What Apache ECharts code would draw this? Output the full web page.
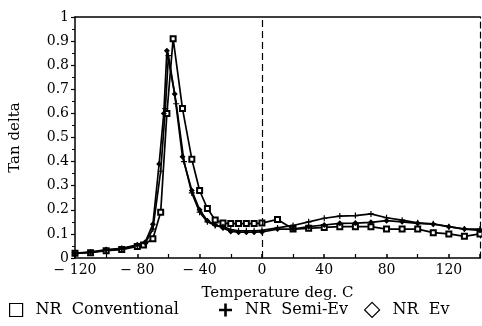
<!DOCTYPE html>
<html>
<head>
<meta charset="utf-8">
<script src="https://cdn.jsdelivr.net/npm/echarts@6/dist/echarts.min.js"></script>
<style>
  html, body { margin: 0; padding: 0; background: #fff; }
  #chart { width: 482px; height: 326px; }
</style>
</head>
<body>
<div id="chart"></div>
<script>
// values
const convTemp = [-120, -110, -100, -90, -80, -76, -70, -65, -61, -57, -51, -45, -40, -35, -30, -25, -20, -15, -10, -5, 0, 10, 20, 30, 40, 50, 60, 70, 80, 90, 100, 110, 120, 130, 140];
const convTan = [0.02, 0.022, 0.03, 0.035, 0.048, 0.054, 0.08, 0.19, 0.60, 0.91, 0.62, 0.41, 0.28, 0.205, 0.158, 0.145, 0.143, 0.143, 0.143, 0.143, 0.145, 0.16, 0.12, 0.123, 0.127, 0.13, 0.13, 0.13, 0.12, 0.12, 0.12, 0.105, 0.10, 0.09, 0.10];

const semiTemp = [-120, -110, -100, -90, -80, -75, -70, -65, -62, -60, -55, -50, -45, -40, -35, -30, -25, -20, -15, -10, -5, 0, 10, 20, 30, 40, 50, 60, 70, 80, 90, 100, 110, 120, 130, 140];
const semiTan = [0.018, 0.024, 0.032, 0.038, 0.052, 0.06, 0.12, 0.36, 0.62, 0.84, 0.64, 0.40, 0.27, 0.19, 0.15, 0.135, 0.13, 0.118, 0.113, 0.113, 0.113, 0.115, 0.125, 0.135, 0.15, 0.165, 0.174, 0.176, 0.183, 0.167, 0.157, 0.146, 0.142, 0.13, 0.12, 0.12];

const evTemp = [-120, -110, -100, -90, -80, -75, -70, -66, -63, -61, -56, -51, -45, -40, -35, -30, -25, -20, -15, -10, -5, 0, 10, 20, 30, 40, 50, 60, 70, 80, 90, 100, 110, 120, 130, 140];
const evTan = [0.02, 0.025, 0.035, 0.04, 0.055, 0.065, 0.14, 0.39, 0.60, 0.86, 0.68, 0.42, 0.28, 0.20, 0.155, 0.137, 0.125, 0.11, 0.107, 0.107, 0.107, 0.108, 0.12, 0.12, 0.13, 0.137, 0.144, 0.145, 0.148, 0.155, 0.15, 0.144, 0.14, 0.13, 0.12, 0.115];

const seriesNames = ['NR Conventional', 'NR Semi-Ev', 'NR Ev'];

const FONT = 'DejaVu Serif';
const plusIcon = 'path://M4,0H6V4H10V6H6V10H4V6H0V4H4Z';

function pairs(xs, ys) {
  return xs.map((x, i) => [x, ys[i]]);
}

// one legend block per series so each can sit where the scan has it
function legendBlock(name, left, icon, itemStyle, size) {
  return {
    left: left,
    bottom: 8,
    padding: 0,
    itemWidth: size,
    itemHeight: size,
    formatter: (n) => n.replace(/ /g, '  '),
    textStyle: { fontFamily: FONT, fontSize: 16, color: '#000', padding: [0, 0, 0, 8] },
    data: [{ name: name, icon: icon, itemStyle: itemStyle }]
  };
}

let chart = echarts.init(document.getElementById('chart'), null, { renderer: 'canvas' });

let option = {
  animation: false,
  textStyle: { fontFamily: FONT, color: '#000' },
  grid: { left: 72, right: 2, top: 17, bottom: 68 },
  legend: [
    legendBlock(seriesNames[0], 9, 'rect', { color: '#fff', borderColor: '#000', borderWidth: 1.2 }, 13),
    legendBlock(seriesNames[1], 219, plusIcon, { color: '#000', borderWidth: 0 }, 13),
    legendBlock(seriesNames[2], 364, 'diamond', { color: '#fff', borderColor: '#000', borderWidth: 1.2 }, 15)
  ],
  xAxis: [
    {
      type: 'value',
      min: -120,
      max: 140,
      interval: 40,
      name: 'Temperature deg. C',
      nameLocation: 'middle',
      nameGap: 28,
      nameTextStyle: { fontFamily: FONT, fontSize: 15, color: '#000' },
      splitLine: { show: false },
      axisLine: { onZero: false, lineStyle: { color: '#000', width: 1.5 } },
      axisTick: { inside: true, length: 4, lineStyle: { color: '#000', width: 1.5 } },
      minorTick: { show: true, splitNumber: 2, length: 4, lineStyle: { color: '#000', width: 1.2 } },
      axisLabel: {
        fontFamily: FONT, fontSize: 14, color: '#000', margin: 5,
        showMaxLabel: false,
        formatter: (v) => (v < 0 ? '\u2212 ' + Math.abs(v) : String(v))
      }
    },
    {
      type: 'value',
      position: 'top',
      min: -120,
      max: 140,
      splitLine: { show: false },
      axisLine: { show: true, onZero: false, lineStyle: { color: '#000', width: 1.5 } },
      axisTick: { show: false },
      axisLabel: { show: false }
    }
  ],
  yAxis: [
    {
      type: 'value',
      min: 0,
      max: 1,
      interval: 0.1,
      name: 'Tan delta',
      nameLocation: 'middle',
      nameGap: 52,
      nameTextStyle: { fontFamily: FONT, fontSize: 15, color: '#000' },
      splitLine: { show: false },
      axisLine: { onZero: false, lineStyle: { color: '#000', width: 1.5 } },
      axisTick: { length: 4, lineStyle: { color: '#000', width: 1.2 } },
      minorTick: { show: true, splitNumber: 2, length: 3, lineStyle: { color: '#000', width: 1 } },
      axisLabel: {
        fontFamily: FONT, fontSize: 14, color: '#000', margin: 6,
        formatter: (v) => (v === 0 || v === 1 ? String(v) : v.toFixed(1))
      }
    },
    {
      type: 'value',
      position: 'right',
      min: 0,
      max: 1,
      splitLine: { show: false },
      axisLine: { show: true, onZero: false, lineStyle: { color: '#000', width: 1.2, type: [6, 4] } },
      axisTick: { show: false },
      axisLabel: { show: false }
    }
  ],
  series: [
    {
      name: seriesNames[0],
      type: 'line',
      data: pairs(convTemp, convTan),
      symbol: 'emptyRect',
      symbolSize: 5,
      lineStyle: { color: '#000', width: 1.7 },
      itemStyle: { color: '#000', borderColor: '#000', borderWidth: 1.2 },
      markLine: {
        silent: true,
        symbol: 'none',
        label: { show: false },
        lineStyle: { color: '#000', width: 1.2, type: [7, 4] },
        data: [{ xAxis: 0 }]
      }
    },
    {
      name: seriesNames[1],
      type: 'line',
      data: pairs(semiTemp, semiTan),
      symbol: plusIcon,
      symbolSize: 6,
      lineStyle: { color: '#000', width: 1.7 },
      itemStyle: { color: '#000' }
    },
    {
      name: seriesNames[2],
      type: 'line',
      data: pairs(evTemp, evTan),
      symbol: 'diamond',
      symbolSize: 6,
      lineStyle: { color: '#000', width: 1.7 },
      itemStyle: { color: '#000' }
    }
  ]
};

option && chart.setOption(option);
</script>
</body>
</html>
